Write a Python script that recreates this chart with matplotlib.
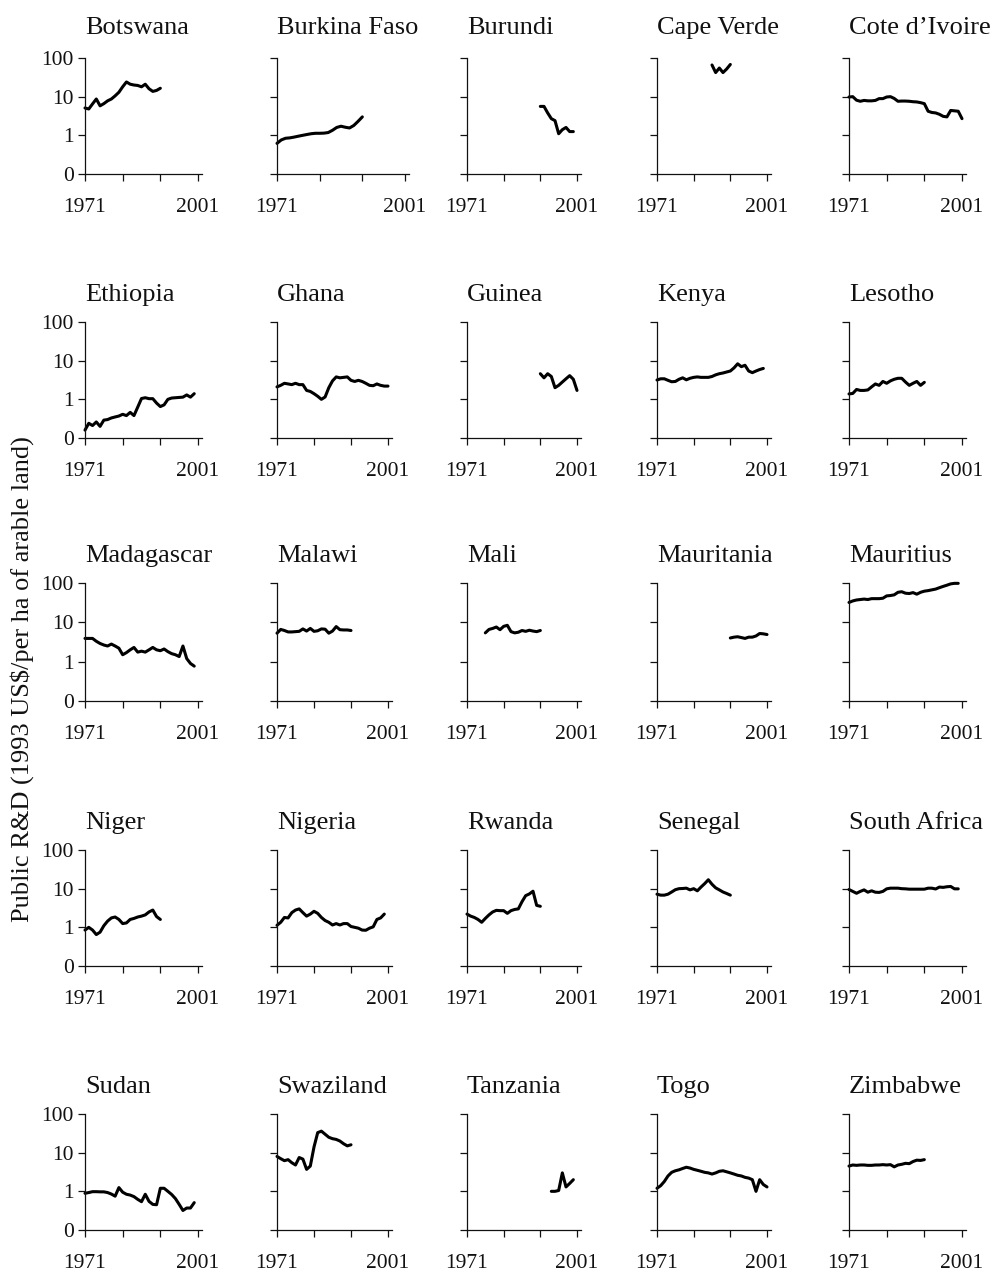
import matplotlib.pyplot as plt
import numpy as np

plt.rcParams['font.family'] = ['Liberation Serif', 'DejaVu Serif']

# panel names, in reading order (5 x 5 grid)
countries = ['Botswana', 'Burkina Faso', 'Burundi', 'Cape Verde', 'Cote d\u2019Ivoire',
             'Ethiopia', 'Ghana', 'Guinea', 'Kenya', 'Lesotho',
             'Madagascar', 'Malawi', 'Mali', 'Mauritania', 'Mauritius',
             'Niger', 'Nigeria', 'Rwanda', 'Senegal', 'South Africa',
             'Sudan', 'Swaziland', 'Tanzania', 'Togo', 'Zimbabwe']

# first year of each series
start_years = [1971, 1971, 1991, 1986, 1971,
               1971, 1971, 1991, 1971, 1971,
               1971, 1971, 1976, 1991, 1971,
               1971, 1971, 1971, 1971, 1971,
               1971, 1971, 1994, 1971, 1971]

# public R&D, 1993 US$ per ha of arable land
botswana = [5.1, 4.8, 6.5, 8.7, 5.8, 6.6, 7.8, 8.7, 10.5, 13, 18, 24, 21, 20, 19.5, 18, 21, 16, 13.7, 14.5, 16.5]
burkina_faso = [0.62, 0.76, 0.84, 0.86, 0.9, 0.95, 1.0, 1.05, 1.1, 1.13, 1.13, 1.14, 1.18, 1.35, 1.6, 1.72, 1.62, 1.55, 1.8, 2.3, 3.0]
burundi = [5.6, 5.6, 3.8, 2.7, 2.4, 1.1, 1.4, 1.6, 1.25, 1.25]
cape_verde = [66, 42, 55, 42, 52, 68]
cote_divoire = [9.8, 10, 8.1, 7.6, 8.0, 7.8, 7.8, 8.0, 8.9, 8.9, 9.8, 10, 9.0, 7.6, 7.7, 7.7, 7.6, 7.4, 7.3, 7.0,
                6.6, 4.2, 3.9, 3.8, 3.5, 3.1, 3.0, 4.4, 4.3, 4.2, 2.7]
ethiopia = [0.16, 0.24, 0.21, 0.26, 0.2, 0.29, 0.3, 0.33, 0.35, 0.37, 0.41, 0.38, 0.46, 0.38, 0.63, 1.05, 1.1, 1.04,
            1.04, 0.8, 0.65, 0.72, 1.0, 1.08, 1.1, 1.12, 1.14, 1.3, 1.14, 1.4]
ghana = [2.1, 2.3, 2.6, 2.5, 2.4, 2.6, 2.4, 2.4, 1.7, 1.6, 1.4, 1.2, 1.0, 1.15, 2.0, 3.0, 3.8, 3.6, 3.7, 3.8,
         3.1, 2.9, 3.1, 2.9, 2.6, 2.3, 2.25, 2.5, 2.3, 2.2, 2.2]
guinea = [4.6, 3.6, 4.6, 3.9, 2.0, 2.3, 2.8, 3.4, 4.1, 3.3, 1.7]
kenya = [3.16, 3.4, 3.4, 3.1, 2.85, 2.9, 3.3, 3.6, 3.2, 3.5, 3.7, 3.8, 3.7, 3.7, 3.7, 3.9, 4.3, 4.6, 4.8, 5.1,
         5.4, 6.5, 8.3, 7.0, 7.6, 5.4, 4.9, 5.4, 5.9, 6.3]
lesotho = [1.38, 1.42, 1.8, 1.7, 1.7, 1.75, 2.1, 2.5, 2.3, 2.9, 2.6, 3.0, 3.3, 3.5, 3.5, 2.8, 2.3, 2.6, 2.9, 2.3, 2.75]
madagascar = [3.9, 3.9, 3.9, 3.3, 2.9, 2.65, 2.5, 2.8, 2.5, 2.2, 1.5, 1.7, 2.0, 2.3, 1.75, 1.85, 1.75, 2.0, 2.3, 2.0,
              1.9, 2.1, 1.8, 1.6, 1.5, 1.35, 2.5, 1.2, 0.9, 0.77]
malawi = [5.3, 6.6, 6.2, 5.7, 5.7, 5.8, 5.9, 6.8, 6.0, 7.0, 5.9, 6.1, 6.8, 6.7, 5.3, 6.0, 7.8, 6.5, 6.4, 6.4, 6.2]
mali = [5.4, 6.6, 7.0, 7.6, 6.5, 7.9, 8.4, 5.8, 5.4, 5.6, 6.2, 5.9, 6.3, 6.0, 5.8, 6.2]
mauritania = [4.0, 4.2, 4.3, 4.1, 3.9, 4.2, 4.2, 4.5, 5.2, 5.1, 4.9]
mauritius = [32, 35, 37, 38, 39, 38, 40, 40, 40, 41, 47, 48, 50, 58, 60, 55, 54, 57, 52, 58,
             62, 64, 67, 70, 76, 82, 88, 95, 98, 98]
niger = [0.85, 1.0, 0.85, 0.65, 0.75, 1.1, 1.45, 1.75, 1.85, 1.6, 1.25, 1.3, 1.6, 1.7, 1.85, 1.95, 2.1, 2.5, 2.8, 1.9, 1.6]
nigeria = [1.13, 1.35, 1.8, 1.75, 2.4, 2.8, 3.0, 2.4, 1.95, 2.2, 2.6, 2.3, 1.8, 1.5, 1.35, 1.15, 1.25, 1.15, 1.25, 1.25,
           1.05, 1.0, 0.95, 0.85, 0.84, 0.95, 1.03, 1.6, 1.75, 2.2]
rwanda = [2.2, 1.95, 1.8, 1.6, 1.35, 1.7, 2.1, 2.5, 2.75, 2.7, 2.7, 2.3, 2.7, 2.9, 3.0, 4.6, 6.6, 7.3, 8.6, 3.7, 3.5]
senegal = [7.2, 6.8, 6.8, 7.2, 8.2, 9.4, 10, 10.1, 10.3, 9.3, 10, 8.8, 11, 13.5, 17, 13, 10.5, 9.3, 8.2, 7.5, 6.8]
south_africa = [9.5, 8.5, 7.6, 8.5, 9.3, 8.1, 8.8, 8.1, 8.0, 8.5, 9.9, 10.3, 10.3, 10.3, 10.0, 9.9, 9.7, 9.7, 9.7, 9.7,
                9.7, 10.3, 10.3, 9.8, 11, 10.8, 11.2, 11.4, 9.9, 9.9]
sudan = [0.89, 0.93, 0.98, 0.98, 0.97, 0.97, 0.93, 0.85, 0.75, 1.25, 0.95, 0.84, 0.8, 0.73, 0.62, 0.54, 0.84, 0.55, 0.46, 0.45,
         1.2, 1.2, 1.0, 0.83, 0.65, 0.46, 0.32, 0.37, 0.37, 0.51]
swaziland = [8.0, 7.0, 6.2, 6.6, 5.5, 4.8, 7.5, 6.8, 3.7, 4.5, 14, 33, 36, 30, 25, 23, 22, 20, 17, 15, 16]
tanzania = [1.0, 1.0, 1.05, 3.0, 1.3, 1.6, 2.0]
togo = [1.2, 1.4, 1.8, 2.5, 3.1, 3.4, 3.6, 3.9, 4.2, 4.0, 3.7, 3.5, 3.3, 3.1, 3.0, 2.8, 3.0, 3.3, 3.4, 3.2,
        3.0, 2.8, 2.6, 2.5, 2.3, 2.2, 2.0, 1.0, 2.0, 1.5, 1.3]
zimbabwe = [4.5, 4.8, 4.7, 4.8, 4.8, 4.7, 4.7, 4.8, 4.8, 4.9, 4.8, 4.9, 4.3, 4.8, 5.0, 5.3, 5.2, 5.9, 6.4, 6.3, 6.6]

series = [botswana, burkina_faso, burundi, cape_verde, cote_divoire,
          ethiopia, ghana, guinea, kenya, lesotho,
          madagascar, malawi, mali, mauritania, mauritius,
          niger, nigeria, rwanda, senegal, south_africa,
          sudan, swaziland, tanzania, togo, zimbabwe]

y_ticks = [0.1, 1, 10, 100]
y_tick_labels = ['0', '1', '10', '100']
x_ticks = [1971, 1981, 1991, 2001]
x_tick_labels = ['1971', '', '', '2001']

W, H = 993, 1275
fig = plt.figure(figsize=(W / 100, H / 100), dpi=100)

# panel placement in pixels
col_left = [85, 277, 467, 657, 849]
col_right = [198, 388, 577, 767, 962]
row_top = [58, 322, 583, 850, 1114]
row_bottom = [174, 438, 701, 966, 1230]

for i, name in enumerate(countries):
    r, c = divmod(i, 5)
    left = col_left[c]
    right = 405 if name == 'Burkina Faso' else col_right[c]
    w = (right - left) * 31 / 30
    h = row_bottom[r] - row_top[r]
    ax = fig.add_axes([left / W, 1 - row_bottom[r] / H, w / W, h / H])

    years = np.arange(start_years[i], start_years[i] + len(series[i]))
    ax.plot(years, series[i], color='black', lw=2.2, solid_joinstyle='round',
            solid_capstyle='round', clip_on=False)

    ax.set_yscale('log')
    ax.set_ylim(0.1, 100)
    ax.set_xlim(1971, 2002)
    ax.minorticks_off()
    ax.set_yticks(y_ticks)
    ax.set_xticks(x_ticks)
    ax.set_xticklabels(x_tick_labels)
    if c == 0:
        ax.set_yticklabels(y_tick_labels)
    else:
        ax.set_yticklabels([])

    for side in ['top', 'right']:
        ax.spines[side].set_visible(False)
    for side in ['left', 'bottom']:
        ax.spines[side].set_linewidth(0.9)
        ax.spines[side].set_color('#111111')

    ax.tick_params(axis='x', direction='out', length=5, width=0.9, pad=12,
                   labelsize=15.5, colors='#111111')
    ax.tick_params(axis='y', direction='out', length=5, width=0.9, pad=3,
                   labelsize=15.5, colors='#111111')

    ax.set_title(name, loc='left', fontsize=19, color='#111111',
                 pad=17 if r == 0 else 15)

fig.text(22 / W, 1 - 679 / H, 'Public R&D (1993 US$/per ha of arable land)',
         rotation=90, ha='center', va='center', fontsize=19, color='#111111')

fig.savefig('out.png', dpi=100, facecolor='white')
